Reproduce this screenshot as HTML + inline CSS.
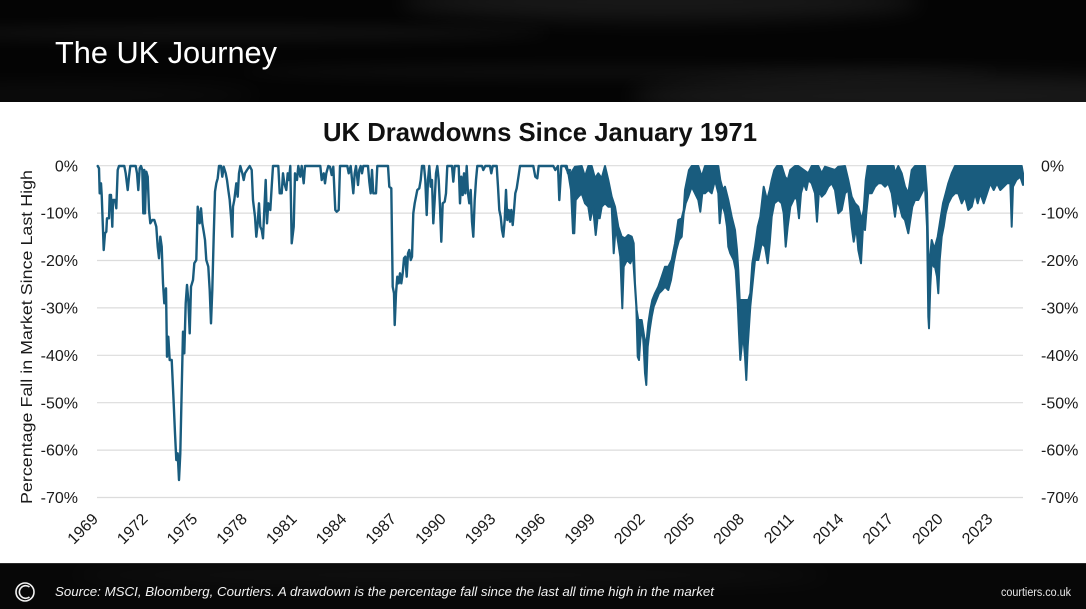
<!DOCTYPE html>
<html>
<head>
<meta charset="utf-8">
<style>
  html,body{margin:0;padding:0;background:#fff;}
  body{width:1086px;height:609px;overflow:hidden;}
  svg{display:block;}
</style>
</head>
<body>
<svg width="1086" height="609" viewBox="0 0 1086 609" xmlns="http://www.w3.org/2000/svg">
  <defs>
    <filter id="blur" x="-20%" y="-200%" width="140%" height="500%">
      <feGaussianBlur stdDeviation="10"/>
    </filter>
    <filter id="blur2" x="-20%" y="-200%" width="140%" height="500%">
      <feGaussianBlur stdDeviation="7"/>
    </filter>
  </defs>

  <!-- white background -->
  <rect x="0" y="0" width="1086" height="609" fill="#ffffff"/>

  <!-- header -->
  <rect x="0" y="0" width="1086" height="102" fill="#040404"/>
  <g>
    <ellipse cx="230" cy="33" rx="320" ry="7" fill="#ffffff" opacity="0.055" filter="url(#blur2)"/>
    <ellipse cx="660" cy="2" rx="260" ry="18" fill="#ffffff" opacity="0.08" filter="url(#blur)"/>
    <ellipse cx="620" cy="72" rx="380" ry="7" fill="#ffffff" opacity="0.04" filter="url(#blur2)"/>
    <ellipse cx="930" cy="96" rx="300" ry="22" fill="#ffffff" opacity="0.08" filter="url(#blur)"/>
    <ellipse cx="60" cy="95" rx="200" ry="10" fill="#ffffff" opacity="0.035" filter="url(#blur)"/>
  </g>
  <rect x="0" y="102" width="1086" height="461" fill="#ffffff"/>
  <text x="55" y="63" font-family="Liberation Sans, Arial, sans-serif" font-size="31" fill="#ffffff" textLength="222" lengthAdjust="spacingAndGlyphs">The UK Journey</text>

  <!-- chart title -->
  <text x="323" y="141" font-family="Liberation Sans, Arial, sans-serif" font-size="26" font-weight="bold" fill="#111111" textLength="434" lengthAdjust="spacingAndGlyphs">UK Drawdowns Since January 1971</text>

  <!-- gridlines -->
  <g stroke="#dcdcdc" stroke-width="1.2">
    <line x1="97" y1="165.7" x2="1023" y2="165.7"/>
    <line x1="97" y1="213.1" x2="1023" y2="213.1"/>
    <line x1="97" y1="260.5" x2="1023" y2="260.5"/>
    <line x1="97" y1="307.9" x2="1023" y2="307.9"/>
    <line x1="97" y1="355.3" x2="1023" y2="355.3"/>
    <line x1="97" y1="402.7" x2="1023" y2="402.7"/>
    <line x1="97" y1="450.1" x2="1023" y2="450.1"/>
    <line x1="97" y1="497.5" x2="1023" y2="497.5"/>
  </g>

  <!-- left y labels -->
  <g font-family="Liberation Sans, Arial, sans-serif" font-size="16" fill="#1a1a1a" text-anchor="end">
    <text x="78" y="171.3">0%</text>
    <text x="78" y="218.7">-10%</text>
    <text x="78" y="266.1">-20%</text>
    <text x="78" y="313.5">-30%</text>
    <text x="78" y="360.9">-40%</text>
    <text x="78" y="408.3">-50%</text>
    <text x="78" y="455.7">-60%</text>
    <text x="78" y="503.1">-70%</text>
  </g>
  <!-- right y labels -->
  <g font-family="Liberation Sans, Arial, sans-serif" font-size="16" fill="#1a1a1a" text-anchor="start">
    <text x="1041" y="171.3">0%</text>
    <text x="1041" y="218.7">-10%</text>
    <text x="1041" y="266.1">-20%</text>
    <text x="1041" y="313.5">-30%</text>
    <text x="1041" y="360.9">-40%</text>
    <text x="1041" y="408.3">-50%</text>
    <text x="1041" y="455.7">-60%</text>
    <text x="1041" y="503.1">-70%</text>
  </g>

  <!-- y axis title -->
  <text transform="translate(32,337) rotate(-90)" text-anchor="middle" font-family="Liberation Sans, Arial, sans-serif" font-size="16" fill="#1a1a1a" textLength="334" lengthAdjust="spacingAndGlyphs">Percentage Fall in Market Since Last High</text>

  <!-- x labels -->
  <g font-family="Liberation Sans, Arial, sans-serif" font-size="16" fill="#1a1a1a" text-anchor="end">
    <text transform="translate(99,520) rotate(-45)">1969</text>
    <text transform="translate(148.7,520) rotate(-45)">1972</text>
    <text transform="translate(198.4,520) rotate(-45)">1975</text>
    <text transform="translate(248.1,520) rotate(-45)">1978</text>
    <text transform="translate(297.8,520) rotate(-45)">1981</text>
    <text transform="translate(347.5,520) rotate(-45)">1984</text>
    <text transform="translate(397.2,520) rotate(-45)">1987</text>
    <text transform="translate(446.9,520) rotate(-45)">1990</text>
    <text transform="translate(496.6,520) rotate(-45)">1993</text>
    <text transform="translate(546.3,520) rotate(-45)">1996</text>
    <text transform="translate(596,520) rotate(-45)">1999</text>
    <text transform="translate(645.7,520) rotate(-45)">2002</text>
    <text transform="translate(695.4,520) rotate(-45)">2005</text>
    <text transform="translate(745.1,520) rotate(-45)">2008</text>
    <text transform="translate(794.8,520) rotate(-45)">2011</text>
    <text transform="translate(844.5,520) rotate(-45)">2014</text>
    <text transform="translate(894.2,520) rotate(-45)">2017</text>
    <text transform="translate(943.9,520) rotate(-45)">2020</text>
    <text transform="translate(993.6,520) rotate(-45)">2023</text>
  </g>

  <!-- series: sparse part -->
  <polyline fill="none" stroke="#195c7e" stroke-width="2.4" stroke-linejoin="round" stroke-linecap="round" points="97.7,166 99,168.3 99.7,193.3 101,183.3 101.7,195 103,230 103.7,250 105,233.3 106.3,231.7 107,218.3 109,218.3 109.7,195 111,195 112.3,226.7 113,200 115,200 116.3,208.3 117.7,170 119,166 124.3,166 125.7,173.3 127.7,190 129,176.7 130.3,166 135.7,166 137,173.3 138.3,190 139.7,168.3 141,166 142.3,170 143.3,213.3 144.3,170 145,213.3 146.3,171.7 147.7,176.7 149,210 150.3,223.3 152.3,220 154.3,220 156.3,226.7 157.7,246.7 159,258.3 160.3,236.7 161.7,246.7 163,283.3 164.3,303.3 166,288.3 167,356.7 168.3,336.7 169.7,360 171.7,360 173.7,403.3 175,433.3 176.3,460 177.7,453.3 179,480 180.3,453.3 181.7,390 183,331.7 184.3,353.3 185.7,303.3 187,285 188.3,300 189.7,333.3 191,286.7 193,280 194.3,263.3 196.3,260 197.7,206.7 199.7,223.3 201,208.3 202.3,223.3 203.7,231.7 205,240 206.3,260 208.3,266.7 209.7,290 211,323.3 212.3,290 213.7,236.7 215,191.7 216.3,183.3 217.7,178.3 219,166 221,166 222.3,176.7 223.7,166.7 225.7,173.3 227,180 228.3,190 229.7,200 231,216.7 232.3,236.7 233,206.7 234.3,200 236.3,183.3 237.7,196.7 239,173.3 240.3,166 242.3,173.3 243.7,180 245,173.3 247,170 249.7,166 251.7,170 253,200 255,216.7 256.3,236.7 257.7,223.3 259,203.3 260.3,226.7 261.7,230 263,238.3 264.3,210 265.7,180 267,223.3 268.3,203.3 270.3,210 271.7,186.7 273,166 278.3,166 279.7,193.3 281.7,193.3 283,173.3 284.3,183.3 286.3,190 287.7,173.3 289,180 290.3,166 291.7,243.3 293.7,226.7 295,173.3 297,180 298.3,166 300.3,176.7 301.7,166 303.7,183.3 305,166 320.3,166 321.7,180 323.7,173.3 325,183.3 326.3,173.3 328.3,166 330,166.7 331.7,175 333.3,166.7 335.3,210 336.7,211.7 338.7,210 340,166 347.3,166 348.7,173.3 350.7,166 353.3,193.3 354.7,173.3 356,166 358,185 359.3,170 360.7,166 362,173.3 363.3,166 368,166 369.3,181.7 370.7,193.3 372,170 373.3,193.3 376,193.3 377.3,166 388,166 389.3,186.7 391.3,188.3 392.7,286.7 394,293.3 394.7,325 396,293.3 397.3,276.7 398.7,283.3 400,273.3 401.3,283.3 402.7,273.3 404,258.3 405.3,256.7 406.7,276.7 408,253.3 409.3,250 410.7,260 412,256.7 413.3,213.3 414.7,203.3 416,196.7 417.3,190 419.3,188.3 420.7,180 422,166 424,166 425.3,180 426.7,215 428,180 429.3,166 430.7,186.7 432,180 433.3,223.3 434.7,200 436,173.3 437.3,166 438.7,180 440,206.7 441.3,241.7 442.7,203.3 444.7,201.7 446,193.3 447.3,166 452,166 453.3,181.7 454.7,166 458.7,166 460,203.3 461.3,176.7 462.7,195 464,173.3 465.3,193.3 466.7,166 468,193.3 469.3,203.3 470.7,190 472,221.7 473.3,236.7 474.7,200 476,180 477.3,166 482,166 483.3,170 485.3,166 490,166 491.3,173.3 492.7,166 496.7,166 498,186.7 499.3,210 500.7,216.7 502,230 503.3,236.7 504.7,220 506,190 507.3,220 508.7,210 510,221.7 511.3,210 512.7,225 514,210 515.3,193.3 516.7,188.3 518.7,175 520,166 533.3,166 535.3,176.7 537.3,178.3 538.7,166 553.3,166 555.3,170 558,166 559.3,200 561.3,166 566.7,166 568,173.3 570,170"/>

  <!-- series: dense band part -->
  <polygon fill="#195c7e" stroke="#195c7e" stroke-width="2" stroke-linejoin="round" points="565,166 568.3,170 571,173.3 575,166.7 581.7,166 585,176.7 588.3,166 591.7,166 595,178.3 598.3,173.3 601.7,178.3 605,166 608.3,180 611.7,196.7 615,206.7 618.3,226.7 621.7,236.7 625,238.3 628.3,235 631.7,236.7 633.7,243.3 635,283.3 636.7,310 638.3,320 641.7,320 643.7,333.3 645.7,346.7 647,336.7 648.3,323.3 650.3,310 652.3,300 655,293.3 658.3,286.7 661.7,276.7 665,266.7 668.3,266.7 671.7,260 675,243.3 678.3,220 681.7,218.3 683.7,210 685,190 687,180 689,170 691.7,166 698.3,166 701.7,176.7 705,166 718.3,166 720.3,180 723,190 725,186.7 728.3,200 731.7,216.7 735,230 737,250 738.3,270 739.7,300 748.3,300 750.3,293.3 752.3,263.3 755,246.7 757.7,226.7 760.3,216.7 763.7,186.7 767,200 769.7,190 771.7,180 774.3,170 777,166 781.7,166 785,176.7 787.7,180 790.3,170 795,166 798.3,166 808.3,173.3 811.7,166 818.3,166 821.7,173.3 825,166.7 835,170 838.3,166.7 845,166 848.3,180 851.7,196.7 855,203.3 858.3,206.7 861.7,220 863.7,210 865.7,180 867.7,166 893.7,166 895,173.3 898.3,166 901.7,173.3 905,186.7 908.3,193.3 911.7,170 915,166 925,166 927,193.3 928.3,256.7 929.7,260 931.7,240 933.7,246.7 935,246.7 937.7,236.7 940.3,220 943,203.3 945.7,193.3 948.3,183.3 951.7,173.3 955,166 1021.7,166 1023,173.3 1023,185 1020.3,176.7 1016.3,180 1013,186.7 1011.7,226.7 1010.3,183.3 1007,183.3 1003.7,186.7 1000.3,190 997,183.3 993.7,190 990.3,183.3 987,193.3 983.7,203.3 980.3,193.3 977.7,203.3 975,193.3 971.7,206.7 968.3,210 965,196.7 961.7,203.3 958.3,193.3 955,193.3 951.7,196.7 948.3,203.3 945.7,213.3 943.7,226.7 941.7,236.7 939.7,260 938.3,293.3 937,276.7 935,266.7 933.7,266.7 931.7,260 930.3,286.7 929,328.3 928.3,316.7 927,226.7 925,186.7 921.7,193.3 918.3,200 915,200 912.3,206.7 910.3,220 908.3,233.3 905,220 902.3,216.7 899.7,206.7 897,200 895,216.7 891.7,193.3 888.3,183.3 885,186.7 881.7,183.3 878.3,183.3 875,186.7 871.7,193.3 868.3,193.3 866.3,213.3 865,230 863,226.7 861,263.3 858.3,250 856.3,226.7 853.7,241.7 851.7,226.7 848.3,190 845,193.3 841.7,210 838.3,213.3 835,190 831.7,183.3 828.3,186.7 825,193.3 821.7,196.7 819,190 817,221.7 815,193.3 811.7,183.3 808.3,180 806.3,190 803.7,183.3 801,193.3 799,218.3 797,200 795,196.7 790.3,206.7 787.7,226.7 785.7,246.7 783.7,213.3 781.7,203.3 778.3,200 774.3,203.3 771.7,216.7 769.7,243.3 767.7,263.3 765,246.7 761.7,243.3 758.3,260 755,260 752.3,286.7 750.3,306.7 749,326.7 747.7,346.7 746.3,380 745,356.7 743,333.3 741.7,346.7 740.3,360 739,333.3 737.7,303.3 735.7,270 733.7,260 730.3,253.3 728.3,246.7 727,226.7 725,213.3 721.7,203.3 719.7,223.3 718.3,193.3 715,180 711.7,193.3 708.3,190 705,193.3 702.3,193.3 700.3,211.7 698.3,200 695,193.3 691.7,186.7 688.3,196.7 685.7,203.3 683.7,213.3 681.7,236.7 679,240 676.3,250 673.7,263.3 671,280 668.3,290 665,286.7 662.3,290 659,293.3 656.3,300 653.7,306.7 651.7,316.7 649.7,330 647.7,346.7 646.3,385 645,373.3 643.7,346.7 642.3,326.7 640.3,340 639,360 637.7,356.7 636.3,306.7 635,286.7 633,256.7 630.3,263.3 627,260 623.7,266.7 622.3,308.3 620.3,256.7 618.3,243.3 615.7,226.7 613.7,253.3 611.7,206.7 608.3,206.7 605,203.3 601.7,206.7 599.7,218.3 597.7,216.7 595.7,235 593,206.7 590.3,220 588.3,206.7 585,203.3 581.7,193.3 578.3,196.7 575.7,200 574.3,233.3 573,233.3 571,190 568.3,173.3 565,166"/>

  <!-- footer -->
  <rect x="0" y="563" width="1086" height="46" fill="#070707"/>
  <ellipse cx="450" cy="575" rx="380" ry="10" fill="#ffffff" opacity="0.04" filter="url(#blur)"/>
  <line x1="0" y1="563.5" x2="1086" y2="563.5" stroke="#2a2a2a" stroke-width="1"/>
  <!-- logo -->
  <circle cx="25" cy="592" r="9" fill="none" stroke="#f2f2f2" stroke-width="1.6"/>
  <path d="M 29.5 587 A 6.3 6.3 0 1 0 29.5 597" fill="none" stroke="#f2f2f2" stroke-width="1.6"/>
  <text x="55" y="596" font-family="Liberation Sans, Arial, sans-serif" font-size="13" font-style="italic" fill="#f2f2f2" textLength="659" lengthAdjust="spacingAndGlyphs">Source: MSCI, Bloomberg, Courtiers. A drawdown is the percentage fall since the last all time high in the market</text>
  <text x="1001" y="596" font-family="Liberation Sans, Arial, sans-serif" font-size="11.5" fill="#e8e8e8" textLength="70" lengthAdjust="spacingAndGlyphs">courtiers.co.uk</text>
</svg>
</body>
</html>
